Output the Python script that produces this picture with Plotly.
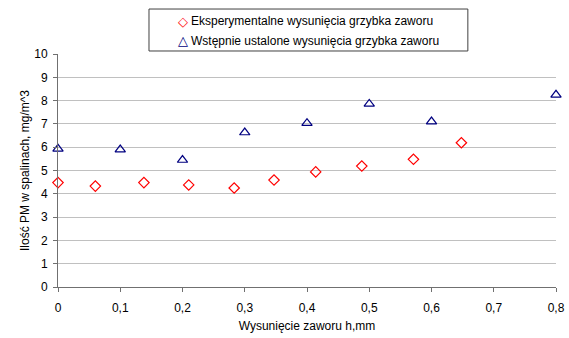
import plotly.graph_objects as go

# Eksperymentalne wysunięcia grzybka zaworu
exp_x = [0.0, 0.06, 0.138, 0.21, 0.283, 0.347, 0.414, 0.488, 0.571, 0.648]
exp_y = [4.48, 4.33, 4.48, 4.38, 4.25, 4.59, 4.94, 5.19, 5.48, 6.19]

# Wstępnie ustalone wysunięcia grzybka zaworu
pre_x = [0.0, 0.1, 0.2, 0.3, 0.4, 0.5, 0.6, 0.8]
pre_y = [5.93, 5.9, 5.45, 6.63, 7.03, 7.86, 7.1, 8.25]

series_names = [
    "Eksperymentalne wysunięcia grzybka zaworu",
    "Wstępnie ustalone wysunięcia grzybka zaworu",
]
series_colors = ["#ff0000", "#000080"]
legend_glyphs = ["◇", "△"]

x_ticks = [0, 0.1, 0.2, 0.3, 0.4, 0.5, 0.6, 0.7, 0.8]
y_ticks = list(range(0, 11))

FONT = "Liberation Sans, Arial, sans-serif"

fig = go.Figure()
fig.add_trace(go.Scatter(
    x=exp_x, y=exp_y, mode="markers", name=series_names[0],
    marker=dict(symbol="diamond-open", size=8, color=series_colors[0], line=dict(width=1.2)),
    cliponaxis=False,
))
fig.add_trace(go.Scatter(
    x=pre_x, y=pre_y, mode="markers", name=series_names[1],
    marker=dict(symbol="triangle-up-open", size=9, color=series_colors[1], line=dict(width=1.2)),
    cliponaxis=False,
))

# legend box drawn above the plot area
fig.add_shape(
    type="rect", xref="paper", yref="paper",
    x0=0.1827, x1=0.823, y0=1.0129, y1=1.193,
    line=dict(color="#404040", width=1), fillcolor="white",
)
row_y = [1.1416, 1.0558]
for name, color, glyph, yy in zip(series_names, series_colors, legend_glyphs, row_y):
    fig.add_annotation(
        xref="paper", yref="paper", x=0.2515, y=yy, xanchor="center", yanchor="middle",
        text=glyph, showarrow=False,
        font=dict(family="DejaVu Sans", size=13, color=color),
    )
    fig.add_annotation(
        xref="paper", yref="paper", x=0.263, y=yy, xanchor="left", yanchor="middle",
        text=name, showarrow=False,
        font=dict(family=FONT, size=12, color="#000000"),
    )

fig.update_layout(
    width=569, height=338,
    margin=dict(l=58, r=13, t=54, b=51, autoexpand=False),
    paper_bgcolor="white", plot_bgcolor="white",
    separators=", ",
    font=dict(family=FONT, size=12, color="#000000"),
    showlegend=False,
    xaxis=dict(
        range=[0, 0.8], tickvals=x_ticks,
        showgrid=False, zeroline=False, automargin=False,
        showline=True, linecolor="#707070", linewidth=1,
        ticks="outside", ticklen=4, tickcolor="#707070",
        ticklabelstandoff=6,
        title=dict(text="Wysunięcie zaworu h,mm", font=dict(size=12), standoff=7),
    ),
    yaxis=dict(
        range=[0, 10], tickvals=y_ticks,
        showgrid=True, gridcolor="#c0c0c0", gridwidth=1, zeroline=False,
        automargin=False,
        showline=True, linecolor="#707070", linewidth=1,
        ticks="outside", ticklen=4, tickcolor="#707070",
        ticklabelstandoff=3,
        title=dict(text="Ilość PM w spalinach, mg/m^3", font=dict(size=12), standoff=2),
    ),
)

fig.write_html("out.html")
